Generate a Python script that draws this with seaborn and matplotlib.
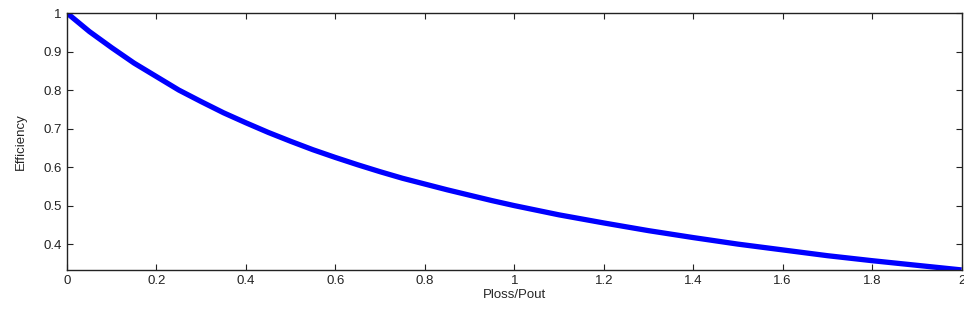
import matplotlib
matplotlib.use("Agg")
import matplotlib.pyplot as plt
import pandas as pd
import seaborn as sns

# values
ploss_pout = [0.0, 0.05, 0.1, 0.15, 0.2, 0.25, 0.3, 0.35, 0.4, 0.45, 0.5,
              0.55, 0.6, 0.65, 0.7, 0.75, 0.8, 0.85, 0.9, 0.95, 1.0,
              1.1, 1.2, 1.3, 1.4, 1.5, 1.6, 1.7, 1.8, 1.9, 2.0]
efficiency = [1.0, 0.952, 0.91, 0.87, 0.835, 0.8, 0.77, 0.741, 0.715, 0.69, 0.667,
              0.645, 0.625, 0.606, 0.588, 0.571, 0.556, 0.541, 0.527, 0.513, 0.5,
              0.476, 0.455, 0.435, 0.417, 0.4, 0.385, 0.37, 0.357, 0.345, 0.333]
x_ticks = [0, 0.2, 0.4, 0.6, 0.8, 1, 1.2, 1.4, 1.6, 1.8, 2]
x_labels = ["0", "0.2", "0.4", "0.6", "0.8", "1", "1.2", "1.4", "1.6", "1.8", "2"]
y_ticks = [0.4, 0.5, 0.6, 0.7, 0.8, 0.9, 1]
y_labels = ["0.4", "0.5", "0.6", "0.7", "0.8", "0.9", "1"]

df = pd.DataFrame({"Ploss/Pout": ploss_pout, "Efficiency": efficiency})

sns.set_style("ticks")
plt.rcParams["font.family"] = ["Liberation Sans", "DejaVu Sans"]

fig = plt.figure(figsize=(9.64, 3.26), dpi=100)
ax = fig.add_axes([0.0695, 0.172, 0.928, 0.788])

sns.lineplot(data=df, x="Ploss/Pout", y="Efficiency", ax=ax,
             color="#0000ff", linewidth=3.8, solid_capstyle="butt")

ax.set_xlim(0, 2)
ax.set_ylim(min(efficiency), 1)
ax.set_xticks(x_ticks)
ax.set_xticklabels(x_labels)
ax.set_yticks(y_ticks)
ax.set_yticklabels(y_labels)
ax.tick_params(direction="in", top=True, right=True, length=4, width=0.8,
               labelsize=9.5, colors="#222222", pad=4)
for s in ax.spines.values():
    s.set_visible(True)
    s.set_linewidth(1.0)
    s.set_color("#222222")
ax.set_xlabel("Ploss/Pout", fontsize=9.5, labelpad=1)
ax.set_ylabel("Efficiency", fontsize=9.5, labelpad=12)

fig.savefig("out.png", dpi=100)
